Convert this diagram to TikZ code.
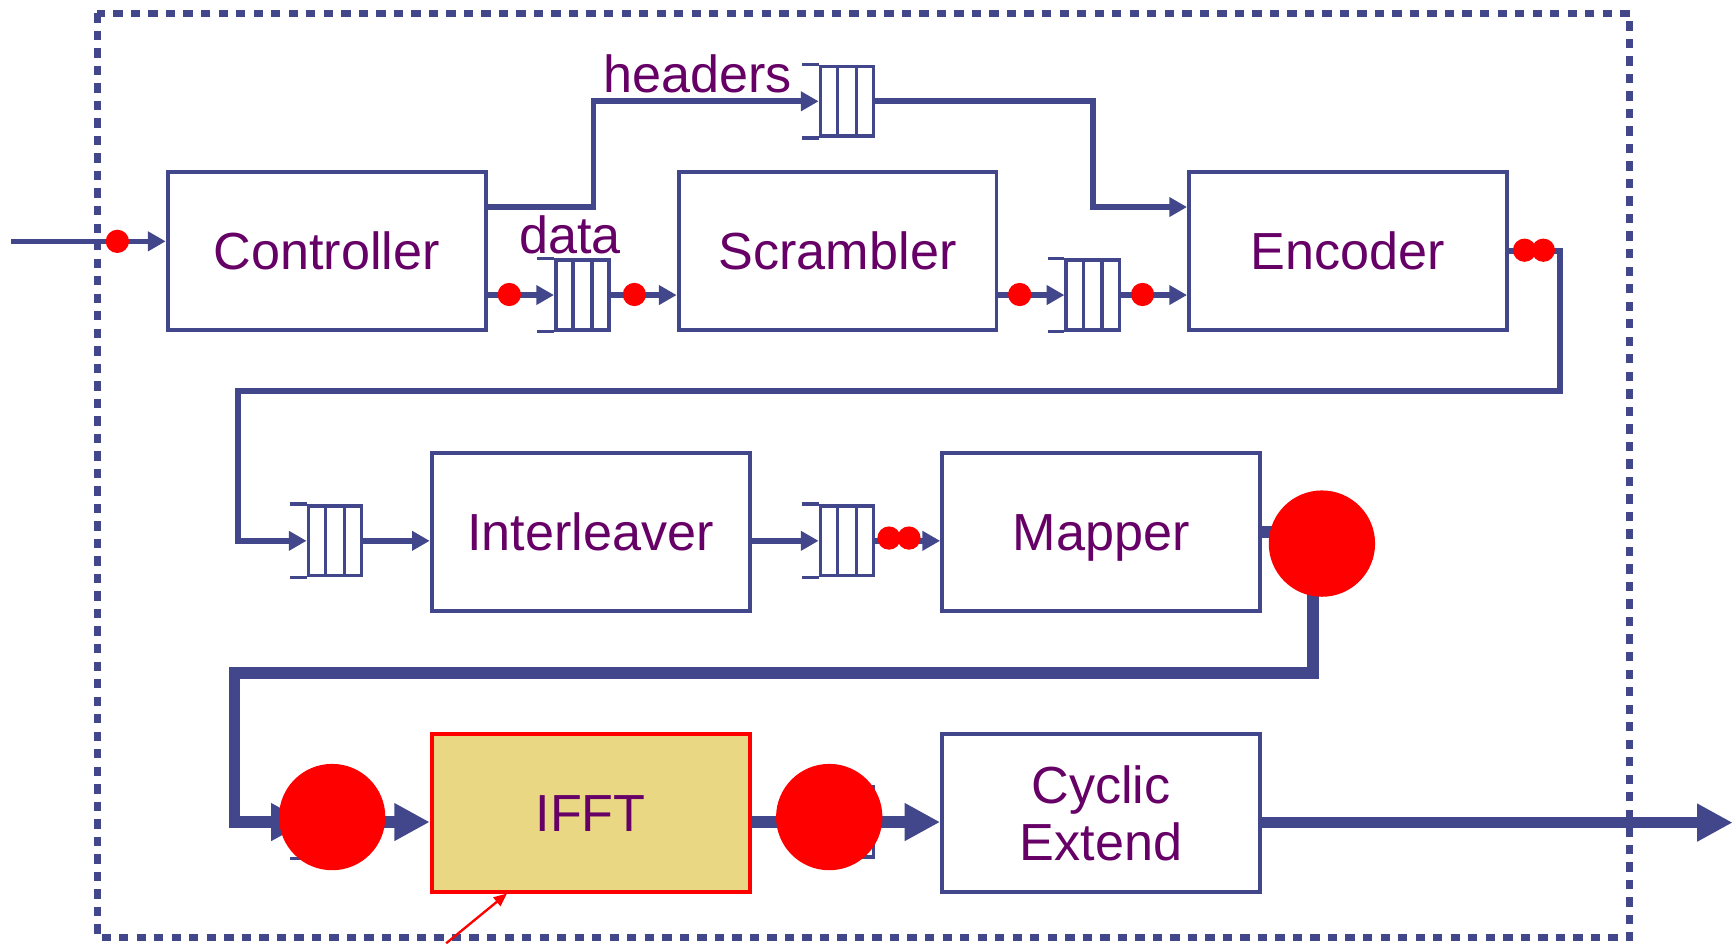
\documentclass[tikz,border=0pt]{standalone}
\usepackage{fontspec}
\setmainfont{Liberation Sans}
\usetikzlibrary{arrows.meta,calc}
\definecolor{lnblue}{RGB}{65,71,138}
\definecolor{txpurple}{RGB}{102,0,102}
\definecolor{ifftfill}{RGB}{234,215,132}
\newcommand\fifodetail[1]{%
  \draw[fifoln] ([xshift=-0.15cm]#1.north west) -- (#1.north west)
                ([xshift=-0.15cm]#1.south west) -- (#1.south west);
  \foreach \f in {0.333,0.667}{%
    \draw[fifoln] ($(#1.north west)!\f!(#1.north east)$) -- ($(#1.south west)!\f!(#1.south east)$);}%
}
\begin{document}
\begin{tikzpicture}[x=0.01cm,y=-0.01cm,
  lbl/.style={text=txpurple,font=\fontsize{13.4}{14.5}\selectfont},
  blk/.style={draw=lnblue,line width=1pt,minimum width=2.87cm,minimum height=1.43cm,
     inner sep=0pt,lbl,text height=9.6pt,text depth=0pt},
  blk2/.style={draw=lnblue,line width=1pt,minimum width=2.87cm,minimum height=1.43cm,
     inner sep=0pt,lbl,align=center},
  fifobox/.style={draw=lnblue,line width=0.9pt,minimum width=0.48cm,minimum height=0.63cm,inner sep=0pt,fill=white},
  fifoln/.style={draw=lnblue,line width=0.9pt},
  wire/.style={draw=lnblue,line width=1.45pt},
  fat/.style={draw=lnblue,line width=2.95pt},
  tipS/.style={-{Triangle[length=0.16cm,width=0.17cm]}},
  tipL/.style={-{Triangle[length=0.32cm,width=0.32cm]}},
  sdot/.style={circle,fill=red,inner sep=0pt,minimum size=0.21cm},
  bdot/.style={circle,fill=red,inner sep=0pt,minimum size=0.96cm},
  frame/.style={draw=lnblue,line width=1.85pt,dash pattern=on 2.4pt off 2.1pt}
]
\useasboundingbox (0,0) rectangle (1568,852);

% dotted frame
\draw[frame] (88,12) rectangle (1472,847);

% blocks
\node[blk] (ctrl) at (295,226.5) {Controller};
\node[blk] (scr)  at (756.5,226.5) {Scrambler};
\node[blk] (enc)  at (1217.5,226.5) {Encoder};
\node[blk] (intl) at (533.5,480.5) {Interleaver};
\node[blk] (map)  at (994.5,480.5) {Mapper};
\node[blk,draw=red,fill=ifftfill] (ifft) at (533.5,734.5) {IFFT};
\node[blk2] (cyc) at (994.5,734.5) {Cyclic\\Extend};

% fifos
\node[fifobox] (hf) at (765,91.5) {};
\node[fifobox] (f1) at (526,266.5) {};
\node[fifobox] (f2) at (987,266.5) {};
\node[fifobox] (f3) at (302.5,488.5) {};
\node[fifobox] (f4) at (765,488.5) {};
\node[fifobox] (f5) at (302.5,742.5) {};
\node[fifobox] (f6) at (765,742.5) {};
\foreach \n in {hf,f1,f2,f3,f4,f5,f6}{\fifodetail{\n}}

% labels
\node[lbl,anchor=base] (hlab) at (630,84) {headers};
\node[lbl,anchor=base] (dlab) at (515,229) {data};

% coordinates
\coordinate (in) at (10,218);
\coordinate (hb1) at (536,187);
\coordinate (hb2) at (536,91.5);
\coordinate (eb) at (987,187);
\coordinate (r1) at (1409,353);
\coordinate (l1) at (215,353);
\coordinate (r2) at (1186,608);
\coordinate (l2) at (212,608);
\coordinate (out) at (1565,743);
\coordinate (ptail) at (403,852);
\coordinate (ptip) at (458,807);

% wires
\draw[wire,tipS] (in) -- (in -| ctrl.west);
\draw[wire,tipS] (ctrl.east |- hb1) -- (hb1) -- (hb2) -- (hf.west);
\draw[wire,tipS] (hf.east) -| (eb) -- (eb -| enc.west);
\draw[wire,tipS] (ctrl.east |- f1.west) -- (f1.west);
\draw[wire,tipS] (f1.east) -- (f1.east -| scr.west);
\draw[wire,tipS] (scr.east |- f2.west) -- (f2.west);
\draw[wire,tipS] (f2.east) -- (f2.east -| enc.west);
\draw[wire,tipS] (enc.east) -| (r1) -- (l1) |- (f3.west);
\draw[wire,tipS] (f3.east) -- (f3.east -| intl.west);
\draw[wire,tipS] (intl.east |- f4.west) -- (f4.west);
\draw[wire,tipS] (f4.east) -- (f4.east -| map.west);
\draw[fat,tipL] (map.east) -| (r2) -- (l2) |- (f5.west);
\draw[fat,tipL] (f5.east) -- (f5.east -| ifft.west);
\draw[fat,tipL] (ifft.east |- f6.west) -- (f6.west);
\draw[fat,tipL] (f6.east) -- (f6.east -| cyc.west);
\draw[fat,tipL] (cyc.east |- out) -- (out);
\draw[red,line width=0.6pt,-{Triangle[length=0.12cm,width=0.1cm]}] (ptail) -- (ptip);

% red dots
\node[sdot] (d0) at (106,218) {};
\node[sdot] (d1) at (460,266) {};
\node[sdot] (d2) at (573,266) {};
\node[sdot] (d3) at (921,266) {};
\node[sdot] (d4) at (1032,266) {};
\node[sdot] (d5) at (1377,226) {};
\node[sdot] (d6) at (1394,226) {};
\node[sdot] (d7) at (803,486) {};
\node[sdot] (d8) at (821,486) {};
\node[bdot] (b1) at (1194,491) {};
\node[bdot] (b2) at (300,738) {};
\node[bdot] (b3) at (749,738) {};
\end{tikzpicture}
\end{document}
